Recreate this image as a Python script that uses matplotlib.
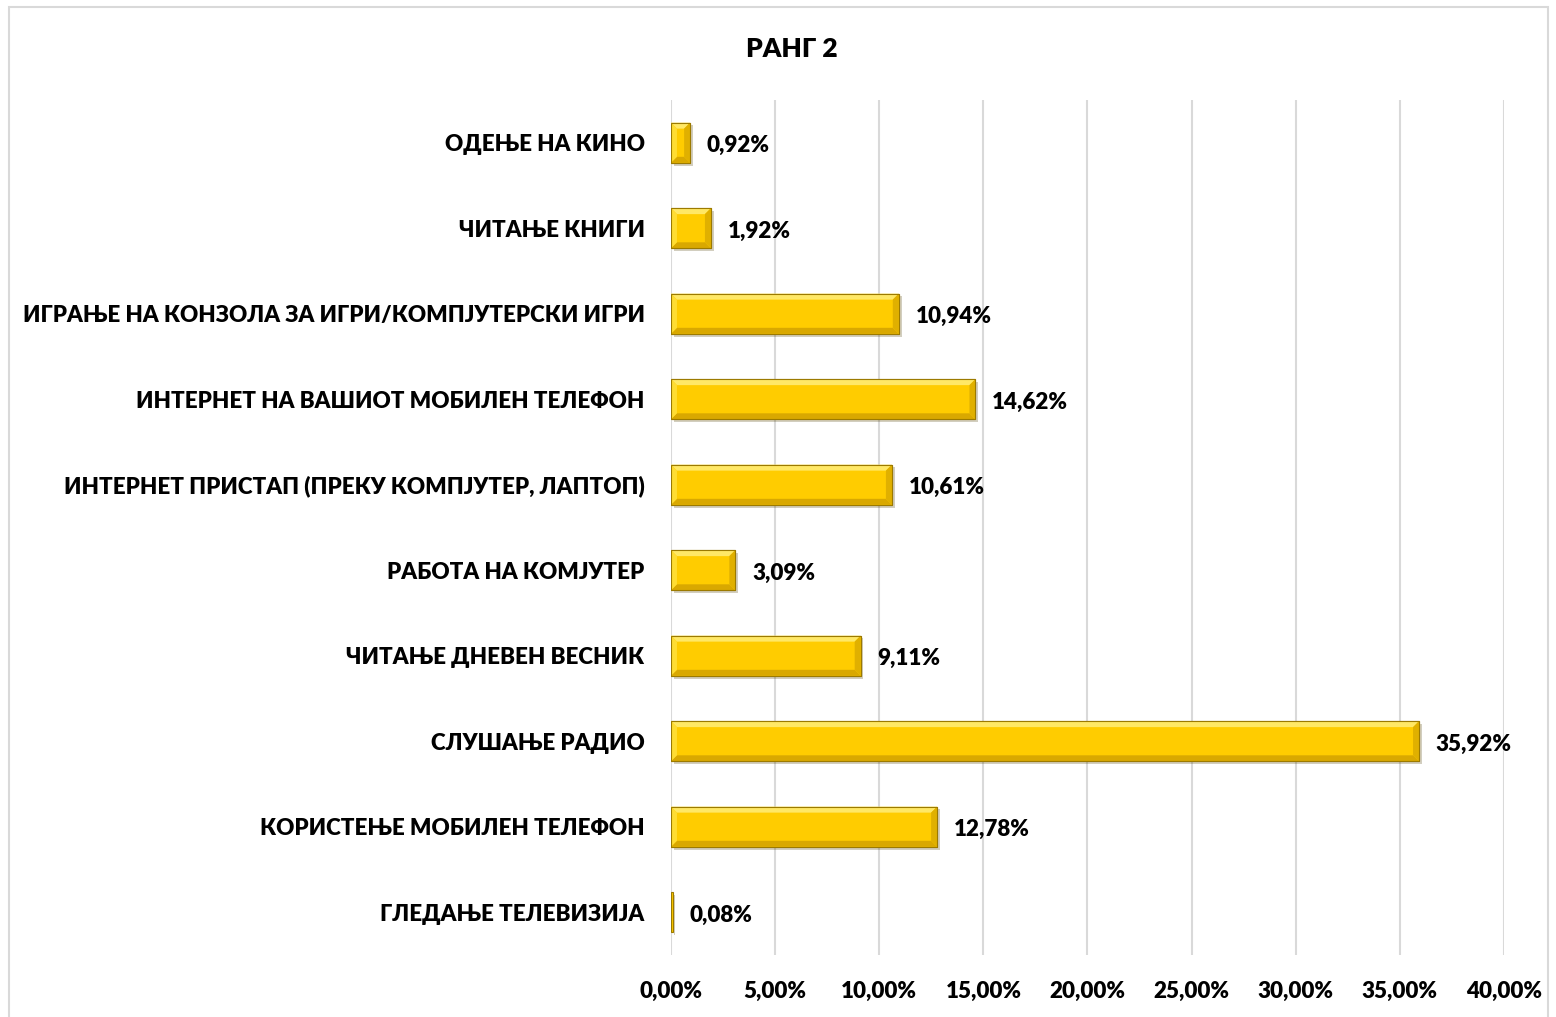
import matplotlib
matplotlib.use("Agg")
import matplotlib.pyplot as plt
from matplotlib.patches import Polygon, Rectangle
from matplotlib.ticker import FuncFormatter, MultipleLocator
import matplotlib.patheffects as pe

# Data (bottom to top as drawn)
categories = [
    "ГЛЕДАЊЕ ТЕЛЕВИЗИЈА",
    "КОРИСТЕЊЕ МОБИЛЕН ТЕЛЕФОН",
    "СЛУШАЊЕ РАДИО",
    "ЧИТАЊЕ ДНЕВЕН ВЕСНИК",
    "РАБОТА НА КОМЈУТЕР",
    "ИНТЕРНЕТ ПРИСТАП (ПРЕКУ КОМПЈУТЕР, ЛАПТОП)",
    "ИНТЕРНЕТ НА ВАШИОТ МОБИЛЕН ТЕЛЕФОН",
    "ИГРАЊЕ НА КОНЗОЛА ЗА ИГРИ/КОМПЈУТЕРСКИ ИГРИ",
    "ЧИТАЊЕ КНИГИ",
    "ОДЕЊЕ НА КИНО",
]
values = [0.08, 12.78, 35.92, 9.11, 3.09, 10.61, 14.62, 10.94, 1.92, 0.92]
title = "РАНГ 2"

plt.rcParams["font.family"] = ["Lato", "Noto Sans", "DejaVu Sans"]
W = "heavy"
FS = 16.1

fig = plt.figure(figsize=(15.56, 10.17), dpi=100)
ax = fig.add_axes([0.4312, 0.061, 0.5354, 0.8407])

# outer chart border
fig.patches.append(Rectangle((0.006, -0.01), 0.989, 1.003, transform=fig.transFigure,
                             fill=False, edgecolor="#D9D9D9", linewidth=1.5))

face = "#FFCC00"
bars = ax.barh(range(len(values)), values, height=0.47, color=face,
               edgecolor="#9C7A00", linewidth=0.8, zorder=3,
               path_effects=[pe.SimplePatchShadow(offset=(2, -2), alpha=0.25), pe.Normal()])

ax.set_xlim(0, 40)
ax.set_ylim(-0.5, len(values) - 0.5)
ax.xaxis.set_major_locator(MultipleLocator(5))
ax.xaxis.set_major_formatter(FuncFormatter(lambda v, p: f"{v:.2f}%".replace(".", ",")))
ax.set_yticks(range(len(values)))
ax.set_yticklabels(categories)
ax.tick_params(axis="both", length=0, labelsize=FS, colors="black")
ax.tick_params(axis="y", pad=19)
ax.tick_params(axis="x", pad=19)
for lbl in ax.get_xticklabels() + ax.get_yticklabels():
    lbl.set_fontweight(W)
ax.grid(axis="x", color="#D9D9D9", linewidth=1.5, zorder=0)
for s in ax.spines.values():
    s.set_visible(False)

# bevel effect built from each bar's own geometry (in pixels)
fig.canvas.draw()
bev = 6
inv = ax.transData.inverted()
for b in bars:
    x0, y0 = ax.transData.transform((b.get_x(), b.get_y()))
    x1, y1 = ax.transData.transform((b.get_x() + b.get_width(), b.get_y() + b.get_height()))
    e = min(bev, (x1 - x0) / 2, (y1 - y0) / 2)
    if x1 - x0 < 2:
        continue
    outer = [(x0, y0), (x1, y0), (x1, y1), (x0, y1)]
    inner = [(x0 + e, y0 + e), (x1 - e, y0 + e), (x1 - e, y1 - e), (x0 + e, y1 - e)]
    sides = [
        ([outer[3], outer[2], inner[2], inner[3]], "#FFE866"),  # top
        ([outer[0], outer[1], inner[1], inner[0]], "#D9A800"),  # bottom
        ([outer[0], outer[3], inner[3], inner[0]], "#FFDD33"),  # left
        ([outer[1], outer[2], inner[2], inner[1]], "#E0B000"),  # right
    ]
    for pts, c in sides:
        ax.add_patch(Polygon([inv.transform(p) for p in pts], closed=True,
                             facecolor=c, edgecolor="none", zorder=4))
    ax.add_patch(Rectangle((b.get_x(), b.get_y()), b.get_width(), b.get_height(),
                           fill=False, edgecolor="#9C7A00", linewidth=0.8, zorder=5))

for i, v in enumerate(values):
    ax.annotate(f"{v:.2f}%".replace(".", ","), xy=(v, i), xytext=(12, -2),
                textcoords="offset points", va="center", ha="left",
                fontsize=FS, fontweight=W, color="black")

fig.text(0.509, 0.952, title, ha="center", va="center", fontsize=19, fontweight=W)

fig.savefig("out.png", dpi=100)
